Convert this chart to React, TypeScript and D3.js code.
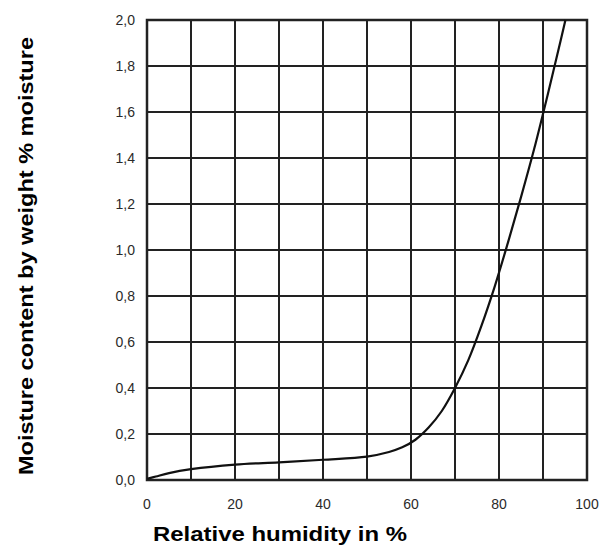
import React from "react";
import * as d3 from "d3";

const rhValues = [0, 2, 5, 10, 20, 30, 40, 50, 55, 58, 61, 64, 67, 70, 73, 76, 79, 82, 85, 88, 91, 94, 95.1];
const moisture = [0.005, 0.015, 0.03, 0.047, 0.067, 0.077, 0.088, 0.102, 0.122, 0.142, 0.175, 0.228, 0.3, 0.4, 0.52, 0.67, 0.84, 1.03, 1.23, 1.44, 1.67, 1.91, 2.0];
const xTicks = [0, 20, 40, 60, 80, 100];
const xGrid = [0, 10, 20, 30, 40, 50, 60, 70, 80, 90, 100];
const yTicks = [0, 0.2, 0.4, 0.6, 0.8, 1.0, 1.2, 1.4, 1.6, 1.8, 2.0];

const W = 601, H = 547;
const L = 147, R = 587, T = 20, B = 480;

export default function App() {
  const x = d3.scaleLinear().domain([0, 100]).range([L, R]);
  const y = d3.scaleLinear().domain([0, 2]).range([B, T]);
  const line = d3
    .line<number>()
    .x((_, i) => x(rhValues[i]))
    .y((d) => y(d))
    .curve(d3.curveCatmullRom.alpha(0.5));
  const fmt = (v: number) => v.toFixed(1).replace(".", ",");
  const font = "Liberation Sans, Arial, sans-serif";
  return (
    <svg width={W} height={H} style={{ position: "absolute", left: 0, top: 0 }}>
      <rect width={W} height={H} fill="#fff" />
      {xGrid.map((v) => (
        <line key={"vx" + v} x1={x(v)} x2={x(v)} y1={T} y2={B} stroke="#222" strokeWidth={2} />
      ))}
      {yTicks.map((v) => (
        <line key={"hy" + v} x1={L} x2={R} y1={y(v)} y2={y(v)} stroke="#222" strokeWidth={2} />
      ))}
      <rect x={L} y={T} width={R - L} height={B - T} fill="none" stroke="#222" strokeWidth={2.5} />
      <path d={line(moisture) || ""} fill="none" stroke="#111" strokeWidth={2.2} />
      {yTicks.map((v) => (
        <text key={"yl" + v} x={L - 12} y={y(v)} dy="0.35em" textAnchor="end" fontFamily={font} fontSize={14} fill="#2a2a2a">
          {fmt(v)}
        </text>
      ))}
      {xTicks.map((v) => (
        <text key={"xl" + v} x={x(v)} y={509} textAnchor="middle" fontFamily={font} fontSize={14} fill="#2a2a2a">
          {v}
        </text>
      ))}
      <text x={153} y={541} textLength={254} lengthAdjust="spacingAndGlyphs" fontFamily={font} fontSize={20} fontWeight="bold" fill="#000">
        Relative humidity in %
      </text>
      <text transform={`translate(33,475) rotate(-90)`} textLength={438} lengthAdjust="spacingAndGlyphs" fontFamily={font} fontSize={21} fontWeight="bold" fill="#000">
        Moisture content by weight % moisture
      </text>
    </svg>
  );
}
